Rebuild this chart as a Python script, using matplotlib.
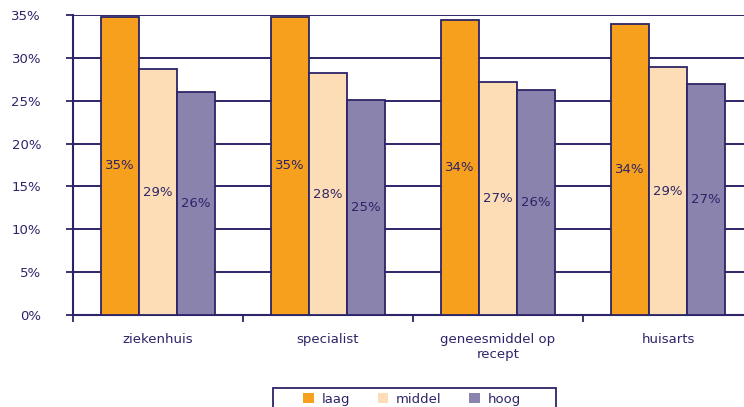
import matplotlib
matplotlib.use("Agg")
import matplotlib.pyplot as plt
from matplotlib.patches import Rectangle
import numpy as np

categories = ["ziekenhuis", "specialist", "geneesmiddel op\nrecept", "huisarts"]
series = ["laag", "middel", "hoog"]
laag = [34.8, 34.8, 34.4, 33.9]
middel = [28.7, 28.2, 27.2, 28.9]
hoog = [26.0, 25.1, 26.2, 27.0]
labels_laag = ["35%", "35%", "34%", "34%"]
labels_middel = ["29%", "28%", "27%", "29%"]
labels_hoog = ["26%", "25%", "26%", "27%"]
yticks = [0, 5, 10, 15, 20, 25, 30, 35]
ytick_labels = ["0%", "5%", "10%", "15%", "20%", "25%", "30%", "35%"]

colors = ["#F6A01D", "#FDDDB5", "#8983AD"]
navy = "#2C2468"

plt.rcParams['font.family'] = ['DejaVu Sans']
W, H = 744, 407
fig = plt.figure(figsize=(W/100, H/100), dpi=100)
ax = fig.add_axes([73/W, 1-315/H, (753-73)/W, 300/H])

x = np.arange(len(categories))
bw = 0.225
vals = [laag, middel, hoog]
labs = [labels_laag, labels_middel, labels_hoog]
for i, (v, lab, c) in enumerate(zip(vals, labs, colors)):
    pos = x + (i-1)*bw
    ax.bar(pos, v, width=bw, color=c, edgecolor=navy, linewidth=1.3, zorder=3, label=series[i])
    for p, val, l in zip(pos, v, lab):
        ax.text(p, val/2, l, ha='center', va='center', color=navy, fontsize=9.5, zorder=4)

ax.set_xlim(-0.5, len(categories)-0.5)
ax.set_ylim(0, 35)
ax.set_yticks(yticks)
ax.set_yticklabels(ytick_labels, color=navy, fontsize=9.5)
ax.yaxis.grid(True, color=navy, linewidth=1.4, zorder=0)
ax.set_axisbelow(True)
ax.set_xticks(np.arange(-0.5, len(categories)-0.5, 1))
ax.set_xticklabels([])
ax.set_xticks(x, minor=True)
ax.set_xticklabels(categories, minor=True, color=navy, fontsize=9.5)
ax.tick_params(axis='x', which='minor', length=0, pad=13)
ax.tick_params(axis='x', which='major', length=5, width=1.3, color=navy, direction='out')
ax.tick_params(axis='y', length=5, width=1.3, color=navy, pad=18)
for s in ['top', 'right']:
    ax.spines[s].set_visible(False)
ax.spines['left'].set_color(navy)
ax.spines['left'].set_linewidth(1.5)
ax.spines['bottom'].set_color(navy)
ax.spines['bottom'].set_linewidth(1.5)

# legend frame
fig.patches.append(Rectangle((273/W, -0.05), (556-273)/W, (1-388/H)+0.05,
                             transform=fig.transFigure, fill=False,
                             edgecolor=navy, linewidth=1.3))
leg = fig.legend(loc='upper center', bbox_to_anchor=(303/W, 0, (521-303)/W, 1-393/H),
                 mode='expand', ncol=3, frameon=False, borderaxespad=0,
                 fontsize=9.5, handlelength=0.8, handleheight=0.8, borderpad=0,
                 handletextpad=0.6)
for t in leg.get_texts():
    t.set_color(navy)
for h in leg.legend_handles:
    h.set_edgecolor('none')

fig.savefig("out.png", dpi=100)
